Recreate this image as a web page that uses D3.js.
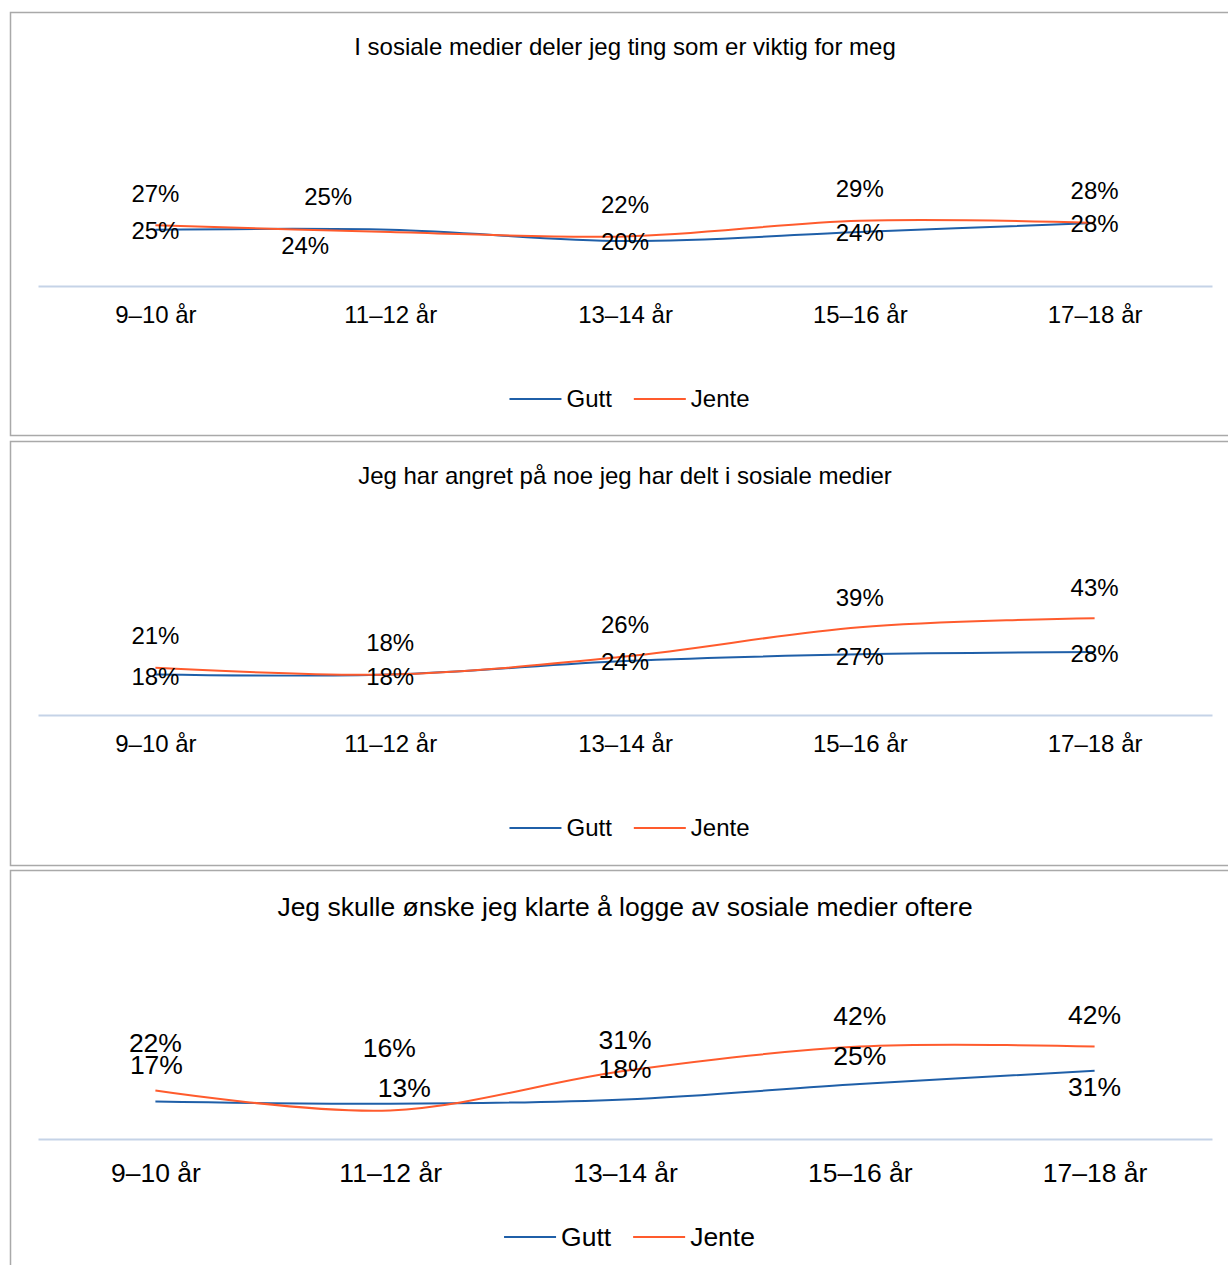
<!DOCTYPE html>
<html lang="no">
<head>
<meta charset="utf-8">
<title>Sosiale medier – Gutt og Jente etter alder</title>
<script src="https://cdn.jsdelivr.net/npm/d3@7"></script>
<style>
  html, body { margin: 0; padding: 0; background: #ffffff; }
  svg { display: block; }
  text { font-family: "Liberation Sans", Arial, Helvetica, sans-serif; fill: #000; }
</style>
</head>
<body>
<svg id="chart" width="1228" height="1265"></svg>
<script>
// ---- Data ----
const categories = ["9–10 år", "11–12 år", "13–14 år", "15–16 år", "17–18 år"];
const seriesNames = ["Gutt", "Jente"];
const titles = [
  "I sosiale medier deler jeg ting som er viktig for meg",
  "Jeg har angret på noe jeg har delt i sosiale medier",
  "Jeg skulle ønske jeg klarte å logge av sosiale medier oftere"
];
// Percent of respondents, one array per panel
const guttDeler  = [25, 25, 20, 24, 28];
const jenteDeler = [27, 24, 22, 29, 28];
const guttAngret  = [18, 18, 24, 27, 28];
const jenteAngret = [21, 18, 26, 39, 43];
const guttLogge  = [17, 16, 18, 25, 31];
const jenteLogge = [22, 13, 31, 42, 42];

const panelSeries = [
  [guttDeler, jenteDeler],
  [guttAngret, jenteAngret],
  [guttLogge, jenteLogge]
];

// ---- Layout & style ----
const colors = ["#1f5fa8", "#ff5b2d"];
const plotLeft = 38, plotRight = 1212;
const panels = [
  { top: 12,  bottom: 435,  titleY: 47,  axisY: 286,  pxPerPct: 2.25, catY: 315,  legendY: 399,  font: 24 },
  { top: 441, bottom: 865,  titleY: 476, axisY: 715,  pxPerPct: 2.25, catY: 744,  legendY: 828,  font: 24 },
  { top: 870, bottom: 1290, titleY: 907, axisY: 1139, pxPerPct: 2.2,  catY: 1173, legendY: 1237, font: 26.5 }
];
// Data label nudges [dx, dy] relative to each point, per panel: [Gutt, Jente]
const labelNudges = [
  [
    [[0, 1], [-62, -33], [0, 1], [0, 1], [0, 1]],
    [[0, -32], [-85, 14], [0, -31.5], [0, -32], [0, -32]]
  ],
  [
    [[0, 2.5], [0, 2.5], [0, 1], [0, 2], [0, 2]],
    [[0, -32], [0, -31.5], [0, -31.5], [0, -30], [0, -31]]
  ],
  [
    [[1, -36.6], [-1, -56], [0, -31], [0, -28], [0, 16]],
    [[0, -47.6], [14, -23], [0, -31], [0, -31], [0, -32]]
  ]
];

const svg = d3.select("#chart");

const x = d3.scalePoint()
  .domain(categories)
  .range([plotLeft, plotRight])
  .padding(0.5);

panels.forEach((p, pi) => {
  const g = svg.append("g").attr("class", "panel");

  // Frame
  g.append("rect")
    .attr("x", 10.5).attr("y", p.top + 0.5)
    .attr("width", 1240).attr("height", p.bottom - p.top)
    .attr("fill", "#fff")
    .attr("stroke", "#a9a9a9")
    .attr("stroke-width", 1.5);

  // Title
  g.append("text")
    .attr("x", (plotLeft + plotRight) / 2)
    .attr("y", p.titleY)
    .attr("dy", "0.35em")
    .attr("text-anchor", "middle")
    .style("font-size", p.font + "px")
    .text(titles[pi]);

  const y = d3.scaleLinear()
    .domain([0, 100])
    .range([p.axisY, p.axisY - 100 * p.pxPerPct]);

  // Category axis
  const axis = g.append("g")
    .attr("transform", `translate(0,${p.axisY})`)
    .call(d3.axisBottom(x).tickSize(0).tickSizeOuter(0));
  axis.select(".domain")
    .attr("stroke", "#c5d3e7")
    .attr("stroke-width", 2);
  axis.selectAll(".tick text")
    .attr("y", p.catY - p.axisY)
    .attr("dy", "0.35em")
    .attr("fill", "#000")
    .style("font-size", p.font + "px")
    .style("font-family", "\"Liberation Sans\", Arial, sans-serif");

  const line = d3.line()
    .x((d, i) => x(categories[i]))
    .y(d => y(d))
    .curve(d3.curveCardinal.tension(0));

  panelSeries[pi].forEach((vals, si) => {
    g.append("path")
      .datum(vals)
      .attr("fill", "none")
      .attr("stroke", colors[si])
      .attr("stroke-width", 2)
      .attr("d", line);
  });

  // Data labels
  panelSeries[pi].forEach((vals, si) => {
    g.selectAll(null)
      .data(vals)
      .join("text")
      .attr("x", (d, i) => x(categories[i]) + labelNudges[pi][si][i][0])
      .attr("y", (d, i) => y(d) + labelNudges[pi][si][i][1])
      .attr("dy", "0.35em")
      .attr("text-anchor", "middle")
      .style("font-size", p.font + "px")
      .text(d => d + "%");
  });

  // Legend
  const leg = g.append("g");
  const swatch = 52, gapText = 5, gapItem = 22;
  let cx = 0;
  const items = [];
  seriesNames.forEach((name, si) => {
    const it = leg.append("g");
    it.append("line")
      .attr("x1", cx).attr("x2", cx + swatch)
      .attr("y1", p.legendY).attr("y2", p.legendY)
      .attr("stroke", colors[si]).attr("stroke-width", 2);
    const t = it.append("text")
      .attr("x", cx + swatch + gapText)
      .attr("y", p.legendY)
      .attr("dy", "0.35em")
      .style("font-size", p.font + "px")
      .text(name);
    cx += swatch + gapText + t.node().getComputedTextLength() + gapItem;
    items.push(it);
  });
  const total = cx - gapItem;
  leg.attr("transform", `translate(${629.5 - total / 2},0)`);
});
</script>
</body>
</html>
